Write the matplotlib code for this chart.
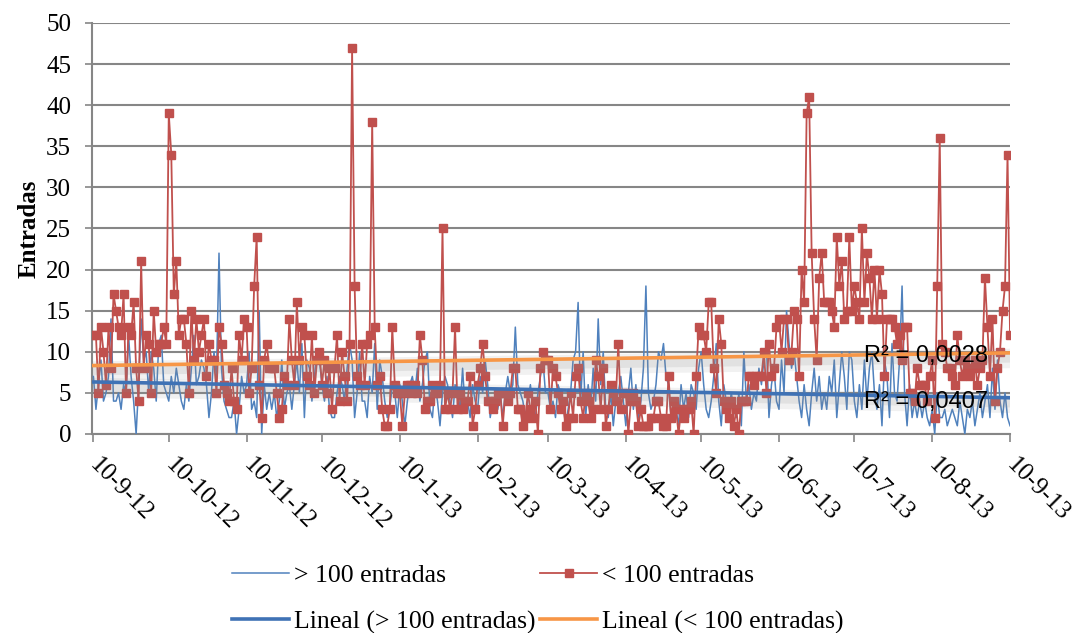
import numpy as np
import pandas as pd
import matplotlib
matplotlib.use('Agg')
import matplotlib.pyplot as plt
import matplotlib.patheffects as pe

# entradas diarias, 10-9-2012 a 10-9-2013
mas_100 = [
    7, 3, 6, 9, 4, 5, 7, 14, 4, 4, 5, 3, 6, 5, 12, 7, 4, 0, 6, 14, 9, 10, 5, 10, 8, 4, 11, 12, 6, 5, 4, 7, 5, 8, 6, 4,
    3, 6, 4, 8, 12, 6, 7, 9, 8, 6, 2, 5, 10, 7, 22, 8, 4, 3, 2, 2, 4, 0, 3, 7, 5, 6, 10, 3, 4, 2, 15, 0, 6, 3, 5,
    3, 5, 2, 4, 9, 3, 5, 6, 3, 6, 9, 5, 11, 2, 9, 8, 4, 7, 10, 9, 6, 4, 7, 3, 2, 2, 5, 7, 6, 4, 8, 11, 9, 2, 5, 10, 4,
    4, 2, 7, 5, 11, 3, 9, 7, 4, 2, 3, 6, 5, 2, 6, 4, 1, 4, 6, 7, 5, 8, 4, 6, 9, 10, 3, 2, 6, 4, 1, 5, 7, 6, 4, 2, 6,
    5, 3, 8, 3, 4, 2, 6, 4, 3, 7, 5, 9, 6, 2, 4, 3, 3, 5, 2, 5, 7, 5, 6, 13, 6, 5, 4, 2, 4, 6, 3, 2, 5, 7, 9, 5,
    5, 3, 4, 2, 6, 5, 4, 1, 3, 5, 9, 10, 16, 4, 10, 2, 6, 3, 8, 4, 14, 6, 10, 3, 2, 5, 1, 4, 5, 7, 4, 1, 5, 8, 3, 6, 2,
    4, 8, 18, 5, 3, 4, 6, 10, 9, 11, 7, 6, 2, 4, 3, 1, 6, 3, 5, 2, 6, 5, 3, 8, 10, 6, 3, 2, 4, 7, 11, 4, 1, 6, 4, 3,
    5, 3, 2, 5, 1, 10, 4, 6, 3, 5, 4, 8, 6, 9, 11, 2, 6, 8, 4, 3, 9, 5, 15, 11, 8, 10, 7, 4, 2, 6, 3, 1, 5, 8, 4, 7, 3, 5,
    3, 7, 5, 9, 2, 6, 10, 7, 3, 10, 9, 4, 2, 6, 3, 9, 4, 8, 10, 5, 3, 6, 1, 9, 7, 2, 11, 5, 4, 9, 18, 5, 1, 6, 2, 4, 2,
    4, 2, 4, 2, 1, 3, 0, 5, 2, 2, 3, 1, 2, 3, 2, 1, 4, 2, 0, 3, 2, 4, 1, 3, 5, 2, 4, 6, 2, 8, 3, 9, 4, 2, 5, 2, 1,
]

menos_100 = [
    12, 12, 5, 13, 10, 6, 13, 8, 17, 15, 13, 12, 17, 5, 13, 12, 16, 8, 4, 21, 8, 12, 11, 5, 15, 10, 11, 11, 13, 11, 39, 34, 17, 21, 12, 14,
    14, 11, 5, 15, 9, 14, 10, 12, 14, 7, 11, 9, 9, 5, 13, 11, 6, 5, 4, 8, 4, 3, 12, 9, 14, 13, 5, 8, 18, 24, 6, 2, 9, 11, 8,
    8, 8, 5, 2, 3, 7, 6, 14, 9, 6, 16, 9, 13, 12, 7, 6, 12, 5, 9, 10, 6, 9, 5, 8, 3, 8, 12, 4, 10, 7, 4, 11, 47, 18, 7, 6, 11,
    6, 11, 12, 38, 13, 6, 7, 3, 1, 1, 3, 13, 6, 5, 5, 1, 5, 6, 6, 5, 6, 5, 12, 9, 3, 4, 4, 6, 5, 5, 6, 25, 3, 5, 3, 5, 13,
    3, 5, 3, 4, 4, 7, 1, 3, 6, 8, 11, 7, 4, 4, 3, 4, 5, 5, 1, 5, 4, 5, 8, 8, 3, 3, 1, 2, 5, 3, 2, 4, 0, 8, 10, 9,
    9, 3, 8, 7, 5, 3, 4, 1, 2, 5, 2, 7, 8, 4, 2, 5, 4, 2, 3, 9, 7, 3, 8, 1, 3, 6, 5, 4, 11, 3, 5, 5, 0, 4, 5, 4, 1,
    3, 1, 1, 1, 2, 2, 4, 4, 2, 1, 1, 7, 2, 4, 3, 0, 3, 2, 3, 3, 4, 0, 7, 13, 12, 12, 10, 16, 16, 8, 5, 14, 11, 4, 3, 2,
    4, 1, 3, 0, 4, 4, 4, 7, 7, 6, 7, 7, 7, 10, 5, 11, 7, 8, 13, 14, 10, 14, 14, 9, 10, 15, 14, 7, 20, 16, 39, 41, 22, 14, 9, 19, 22, 16,
    16, 16, 15, 13, 24, 18, 21, 14, 15, 24, 15, 18, 16, 14, 25, 16, 22, 19, 14, 20, 14, 20, 17, 7, 14, 14, 14, 13, 11, 12, 9, 13, 13, 5, 5, 4, 8,
    6, 6, 6, 4, 7, 9, 2, 18, 36, 11, 10, 8, 8, 7, 6, 12, 9, 7, 9, 8, 7, 8, 9, 6, 8, 9, 19, 13, 7, 14, 4, 8, 10, 15, 18, 34, 12,
]

fecha_inicio = '2012-09-10'
fecha_fin = '2013-09-10'
r2_mas = 'R² = 0,0407'
r2_menos = 'R² = 0,0028'

fechas = pd.date_range(fecha_inicio, fecha_fin, freq='D')
marcas = pd.date_range(fecha_inicio, fecha_fin, freq='MS') + pd.Timedelta(days=9)
marcas = [fechas[0]] + [m for m in marcas if m > fechas[0]]
etiquetas = ['{}-{}-{}'.format(m.day, m.month, m.year % 100) for m in marcas]

df = pd.DataFrame({'mas': mas_100, 'menos': menos_100}, index=fechas)

# tendencia lineal de cada serie
dias = np.arange(len(df))
tend_mas = np.polyval(np.polyfit(dias, df['mas'], 1), dias)
tend_menos = np.polyval(np.polyfit(dias, df['menos'], 1), dias)

plt.rcParams['font.family'] = ['Liberation Serif', 'DejaVu Serif']

fig = plt.figure(figsize=(10.82, 6.33), dpi=100)
ax = fig.add_axes([0.085, 0.3144, 0.8485, 0.6493])

gris = '#868686'
azul = '#4F81BD'
rojo = '#C0504D'

l1, = ax.plot(df.index, df['mas'], color=azul, lw=1.1, label='> 100 entradas', zorder=3)
l2, = ax.plot(df.index, df['menos'], color=rojo, lw=1.3, marker='s', ms=5.5,
              label='< 100 entradas', zorder=4)

sombra = [pe.SimpleLineShadow(offset=(0, -4), shadow_color='0.55', alpha=0.12, linewidth=14),
          pe.SimpleLineShadow(offset=(0, -3), shadow_color='0.55', alpha=0.15, linewidth=8),
          pe.Normal()]
l3, = ax.plot(df.index, tend_mas, color='#3F72B5', lw=2.6, label='Lineal (> 100 entradas)',
              zorder=5, path_effects=sombra)
l4, = ax.plot(df.index, tend_menos, color='#F79646', lw=2.6, label='Lineal (< 100 entradas)',
              zorder=5, path_effects=sombra)

ax.text(fechas[307], 9.5, r2_menos, family=['Liberation Sans', 'DejaVu Sans'], fontsize=17,
        va='center', ha='left', zorder=6)
ax.text(fechas[307], 3.9, r2_mas, family=['Liberation Sans', 'DejaVu Sans'], fontsize=17,
        va='center', ha='left', zorder=6)

ax.set_ylim(0, 50)
ax.set_yticks(range(0, 51, 5))
ax.set_xlim(fechas[0] - pd.Timedelta(hours=14), fechas[-1])
ax.set_xticks(marcas)
ax.set_xticklabels(etiquetas, rotation=-45, ha='left', va='center', rotation_mode='anchor')
ax.tick_params(axis='both', labelsize=18, color=gris, width=1.2)
ax.tick_params(axis='x', length=6, pad=14)
ax.tick_params(axis='y', length=5, pad=10)

ax.grid(axis='y', color=gris, lw=1.5)
ax.set_axisbelow(True)
for lado in ['top', 'right']:
    ax.spines[lado].set_visible(False)
for lado in ['left', 'bottom']:
    ax.spines[lado].set_color(gris)
    ax.spines[lado].set_linewidth(1.5)

ax.set_ylabel('Entradas', fontsize=18, fontweight='bold', labelpad=4)

leyenda = fig.legend([l1, l3, l2, l4], [h.get_label() for h in [l1, l3, l2, l4]],
                     loc='center', bbox_to_anchor=(0.497, 0.054), ncol=2, frameon=False,
                     fontsize=18.5, handlelength=2.2, handletextpad=0.2, columnspacing=0.2,
                     labelspacing=0.9)
for linea in leyenda.get_lines():
    linea.set_path_effects([])

fig.savefig('out.png', dpi=100)
